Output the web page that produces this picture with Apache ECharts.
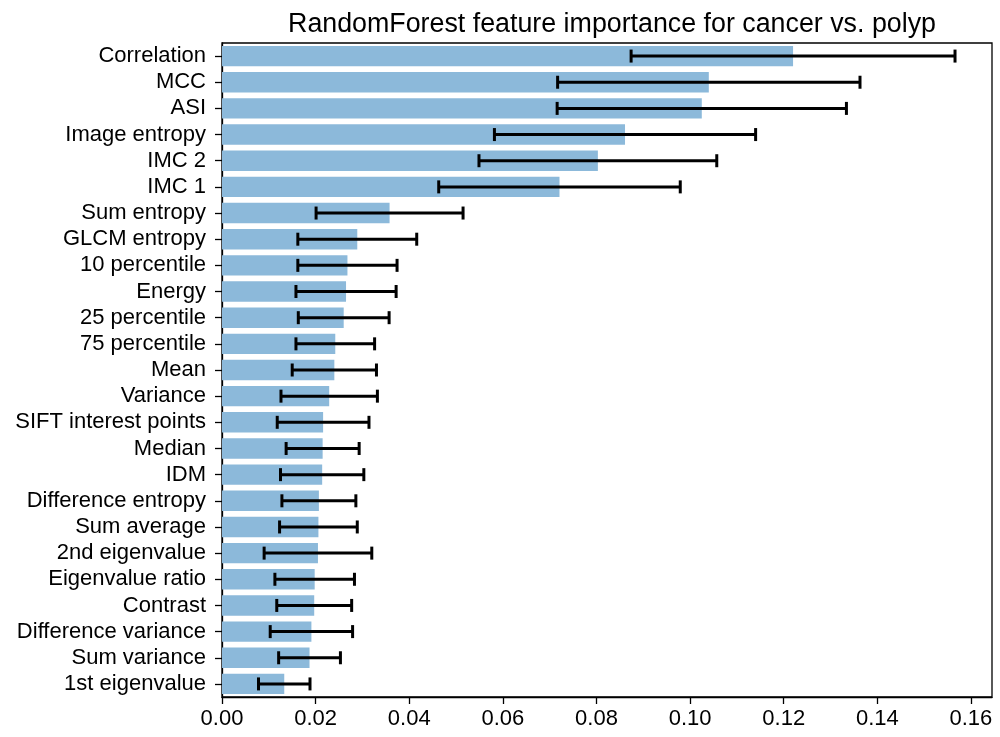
<!DOCTYPE html>
<html>
<head>
<meta charset="utf-8">
<script src="https://cdn.jsdelivr.net/npm/echarts@6/dist/echarts.min.js"></script>
<style>
  html, body { margin: 0; padding: 0; background: #fff; }
  #chart { width: 1000px; height: 737px; }
</style>
</head>
<body>
<div id="chart"></div>
<script>
// Feature names, top to bottom
const features = [
  'Correlation', 'MCC', 'ASI', 'Image entropy', 'IMC 2', 'IMC 1',
  'Sum entropy', 'GLCM entropy', '10 percentile', 'Energy', '25 percentile',
  '75 percentile', 'Mean', 'Variance', 'SIFT interest points', 'Median', 'IDM',
  'Difference entropy', 'Sum average', '2nd eigenvalue', 'Eigenvalue ratio',
  'Contrast', 'Difference variance', 'Sum variance', '1st eigenvalue'
];
// Mean importance of each feature
const importance = [
  0.1220, 0.1040, 0.1025, 0.0861, 0.0803, 0.0721,
  0.0358, 0.0289, 0.0268, 0.0265, 0.0260,
  0.0242, 0.0240, 0.0229, 0.0216, 0.0215, 0.0214,
  0.0207, 0.0206, 0.0205, 0.0198,
  0.0197, 0.0191, 0.0187, 0.0133
];
// Standard deviation across trees
const stdDev = [
  0.0346, 0.0323, 0.0309, 0.0279, 0.0254, 0.0258,
  0.0157, 0.0127, 0.0106, 0.0107, 0.0097,
  0.0084, 0.0090, 0.0103, 0.0098, 0.0078, 0.0089,
  0.0079, 0.0083, 0.0115, 0.0085,
  0.0080, 0.0088, 0.0066, 0.0055
];
const xTicks = { min: 0, max: 0.1645, step: 0.02 };

const FONT = "'Liberation Sans', Arial, Helvetica, sans-serif";
const chart = echarts.init(document.getElementById('chart'), null, { renderer: 'canvas' });

const errData = features.map((f, i) => [importance[i], i, stdDev[i]]);

chart.setOption({
  animation: false,
  backgroundColor: '#fff',
  title: {
    text: 'RandomForest feature importance for cancer vs. polyp',
    left: 607, textAlign: 'center', top: 6,
    textStyle: { fontFamily: FONT, fontSize: 26.8, fontWeight: 'normal', color: '#000' }
  },
  grid: {
    left: 222, right: 8, top: 43, bottom: 40,
    show: true, borderColor: '#000', borderWidth: 1.3, backgroundColor: 'transparent'
  },
  xAxis: {
    type: 'value', min: xTicks.min, max: xTicks.max, interval: xTicks.step,
    axisLine: { show: true, lineStyle: { color: '#000', width: 1.3 } },
    axisTick: { show: true, length: 7, lineStyle: { color: '#000', width: 1.3 } },
    axisLabel: {
      showMaxLabel: false, margin: 11,
      fontFamily: FONT, fontSize: 22, color: '#000',
      formatter: v => v.toFixed(2)
    },
    splitLine: { show: false }
  },
  yAxis: {
    type: 'category', data: features, inverse: true,
    axisLine: { show: true, lineStyle: { color: '#000', width: 1.3 } },
    axisTick: { show: true, alignWithLabel: true, length: 7, lineStyle: { color: '#000', width: 1.3 } },
    axisLabel: { interval: 0, margin: 16, fontFamily: FONT, fontSize: 22, color: '#000' }
  },
  series: [
    {
      type: 'bar', data: importance, barCategoryGap: '22%',
      itemStyle: { color: '#8cb9da' }
    },
    {
      type: 'custom', data: errData,
      encode: { x: 0, y: 1 },
      z: 10,
      renderItem: (params, api) => {
        const v = api.value(0), idx = api.value(1), e = api.value(2);
        const lo = api.coord([v - e, idx]);
        const hi = api.coord([v + e, idx]);
        const cap = 6.5;
        const style = { stroke: '#000', lineWidth: 3 };
        return {
          type: 'group',
          children: [
            { type: 'line', shape: { x1: lo[0], y1: lo[1], x2: hi[0], y2: hi[1] }, style },
            { type: 'line', shape: { x1: lo[0], y1: lo[1] - cap, x2: lo[0], y2: lo[1] + cap }, style },
            { type: 'line', shape: { x1: hi[0], y1: hi[1] - cap, x2: hi[0], y2: hi[1] + cap }, style }
          ]
        };
      }
    }
  ]
});
</script>
</body>
</html>
